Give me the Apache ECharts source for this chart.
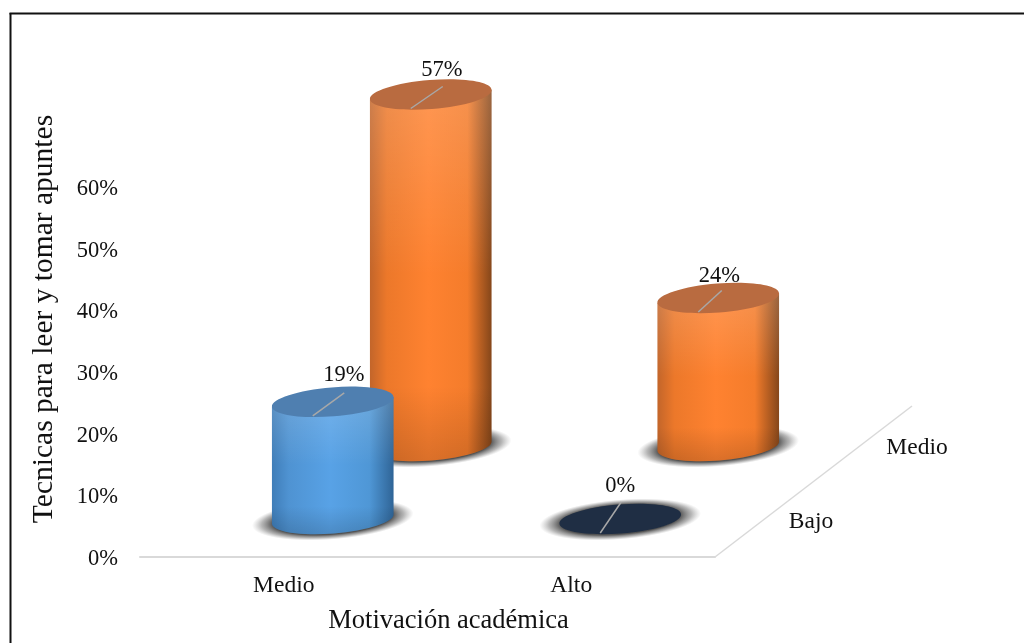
<!DOCTYPE html>
<html>
<head>
<meta charset="utf-8">
<style>
html,body{margin:0;padding:0;background:#fff;}
#chart{width:1024px;height:643px;}
</style>
<script src="https://cdn.jsdelivr.net/npm/echarts@6/dist/echarts.min.js"></script>
</head>
<body>
<div id="chart"></div>
<script>
const categories = ['Medio', 'Alto'];
const depthRows = ['Bajo', 'Medio'];
const bajoValues = [19, 0];
const medioValues = [57, 24];
const yTicks = [0, 10, 20, 30, 40, 50, 60];

const FONT = '"Liberation Serif","Times New Roman",serif';
const RX = 61, RY = 14.5, TILT = 0.08;
const rowShift = { Bajo: [49, -38], Medio: [147, -111] };
const palette = {
  blue:   { left: '#3F7DB8', soft: '#4F93D2', mid: '#58A2E6', deep: '#4F97D6', right: '#2F6496', cap: '#4F7FB0' },
  orange: { left: '#C2652A', soft: '#EC782A', mid: '#FF8230', deep: '#F47C2B', right: '#84461A', cap: '#B96B40' },
  navy:   { cap: '#1F2E44' }
};
const pointStyle = {
  Bajo: [palette.blue, palette.navy],
  Medio: [palette.orange, palette.orange]
};
// Where each leader line ends, relative to the cap centre
const leaderEnd = {
  Bajo: [[11.5, -9], [1, -17]],
  Medio: [[12, -8], [3.5, -7.5]]
};
const labelLift = {
  Bajo: [[11, -27], [0, -33]],
  Medio: [[11, -24], [1, -22]]
};

function ellipsePts(cx, cy) {
  const dx = RX * Math.cos(TILT), dy = RX * Math.sin(TILT);
  return { lx: cx - dx, ly: cy + dy, rx: cx + dx, ry: cy - dy };
}

function makeRender(row) {
  return function (params, api) {
    const cat = api.value(0), v = api.value(1), i = params.dataIndex;
    const s = rowShift[row];
    const b = api.coord([cat, 0]), t = api.coord([cat, v]);
    const bx = b[0] + s[0], by = b[1] + s[1];
    const tx = t[0] + s[0], ty = t[1] + s[1];
    const pal = pointStyle[row][i];
    const kids = [];

    kids.push({
      type: 'circle',
      shape: { cx: 0, cy: 0, r: 40 },
      x: bx, y: by + 0.5, scaleX: 81 / 40, scaleY: 20 / 40, rotation: TILT,
      style: {
        fill: new echarts.graphic.RadialGradient(0.5, 0.5, 0.5, [
          { offset: 0, color: 'rgba(45,45,45,0.92)' },
          { offset: 0.74, color: 'rgba(60,60,60,0.88)' },
          { offset: 0.88, color: 'rgba(110,110,110,0.5)' },
          { offset: 1, color: 'rgba(150,150,150,0)' }
        ])
      }
    });

    if (v > 0) {
      const tp = ellipsePts(tx, ty), bp = ellipsePts(bx, by);
      const deg = -TILT * 180 / Math.PI;
      const d = 'M' + tp.lx + ' ' + tp.ly + 'L' + bp.lx + ' ' + bp.ly +
        'A' + RX + ' ' + RY + ' ' + deg + ' 0 0 ' + bp.rx + ' ' + bp.ry +
        'L' + tp.rx + ' ' + tp.ry + 'Z';
      kids.push({
        type: 'path', shape: { pathData: d },
        style: {
          fill: new echarts.graphic.LinearGradient(0, 0, 1, 0, [
            { offset: 0, color: pal.left },
            { offset: 0.14, color: pal.soft },
            { offset: 0.48, color: pal.mid },
            { offset: 0.8, color: pal.deep },
            { offset: 1, color: pal.right }
          ])
        }
      });
      kids.push({
        type: 'path', shape: { pathData: d },
        style: {
          fill: new echarts.graphic.LinearGradient(0, 0, 0, 1, [
            { offset: 0, color: 'rgba(255,255,255,0.17)' },
            { offset: 0.5, color: 'rgba(255,255,255,0)' },
            { offset: 0.8, color: 'rgba(0,0,0,0)' },
            { offset: 1, color: 'rgba(0,0,0,0.14)' }
          ])
        }
      });
    }

    kids.push({
      type: 'ellipse',
      shape: { cx: 0, cy: 0, rx: RX, ry: RY },
      x: tx, y: ty, rotation: TILT,
      style: { fill: pal.cap }
    });

    const le = leaderEnd[row][i];
    kids.push({
      type: 'line',
      shape: { x1: tx - 20, y1: ty + 14, x2: tx + le[0], y2: ty + le[1] },
      style: { stroke: '#A8A8A8', lineWidth: 1.5 }
    });

    const lift = labelLift[row][i];
    kids.push({
      type: 'text',
      x: tx + lift[0], y: ty + lift[1],
      style: {
        text: v + '%', font: '22.5px ' + FONT, fill: '#111',
        align: 'center', verticalAlign: 'middle'
      }
    });
    return { type: 'group', children: kids };
  };
}

// The receding floor edge plus the depth-axis labels
function renderDepth(params, api) {
  const last = api.coord([categories.length - 1, 0]);
  const cx = last[0] + api.size([1, 0])[0] / 2, cy = last[1];
  const kids = [{
    type: 'line',
    shape: { x1: cx, y1: cy, x2: cx + 197, y2: cy - 151 },
    style: { stroke: '#D9D9D9', lineWidth: 1.5 }
  }];
  const pos = [[96, -35], [202, -109]];
  depthRows.forEach(function (name, k) {
    kids.push({
      type: 'text',
      x: cx + pos[k][0], y: cy + pos[k][1],
      style: {
        text: name, font: '23.5px ' + FONT, fill: '#111',
        align: 'center', verticalAlign: 'middle'
      }
    });
  });
  return { type: 'group', children: kids };
}

const chart = echarts.init(document.getElementById('chart'), null, { renderer: 'canvas' });
chart.setOption({
  animation: false,
  backgroundColor: '#fff',
  textStyle: { fontFamily: FONT },
  graphic: [
    { type: 'line', silent: true, z: -1, shape: { x1: 9.5, y1: 13.5, x2: 1024, y2: 13.5 }, style: { stroke: '#111', lineWidth: 2 } },
    { type: 'line', silent: true, z: -1, shape: { x1: 10.5, y1: 13, x2: 10.5, y2: 643 }, style: { stroke: '#111', lineWidth: 2 } }
  ],
  grid: { left: 140, top: 187, width: 575, height: 370 },
  xAxis: {
    type: 'category',
    data: categories,
    boundaryGap: true,
    name: 'Motivación académica',
    nameLocation: 'middle',
    nameGap: 51,
    nameTextStyle: { fontFamily: FONT, fontSize: 26.5, color: '#111', padding: [0, 0, 0, 42] },
    axisLine: { lineStyle: { color: '#D9D9D9', width: 2 } },
    axisTick: { show: false },
    axisLabel: { fontFamily: FONT, fontSize: 23.5, color: '#111', margin: 17 }
  },
  yAxis: {
    type: 'value',
    min: 0, max: 60, interval: 10,
    name: 'Tecnicas para leer y tomar apuntes',
    nameLocation: 'middle',
    nameGap: 81,
    nameRotate: 90,
    nameTextStyle: { fontFamily: FONT, fontSize: 29.5, color: '#111', padding: [0, 0, 0, 106] },
    axisLine: { show: false },
    axisTick: { show: false },
    splitLine: { show: false },
    axisLabel: {
      fontFamily: FONT, fontSize: 22.5, color: '#111', margin: 22,
      formatter: function (val) { return yTicks.indexOf(val) >= 0 ? '{t|' + val + '%}' : ''; },
      rich: { t: { fontFamily: FONT, fontSize: 22.5, color: '#111', padding: [4, 0, 0, 0] } }
    }
  },
  series: [
    { type: 'custom', name: 'depth', coordinateSystem: 'cartesian2d', renderItem: renderDepth, data: [[0, 0]], clip: false, silent: true },
    { type: 'custom', name: 'Medio', coordinateSystem: 'cartesian2d', renderItem: makeRender('Medio'),
      data: medioValues.map(function (v, i) { return [i, v]; }), encode: { x: 0, y: 1 }, clip: false },
    { type: 'custom', name: 'Bajo', coordinateSystem: 'cartesian2d', renderItem: makeRender('Bajo'),
      data: bajoValues.map(function (v, i) { return [i, v]; }), encode: { x: 0, y: 1 }, clip: false }
  ]
});
</script>
</body>
</html>
